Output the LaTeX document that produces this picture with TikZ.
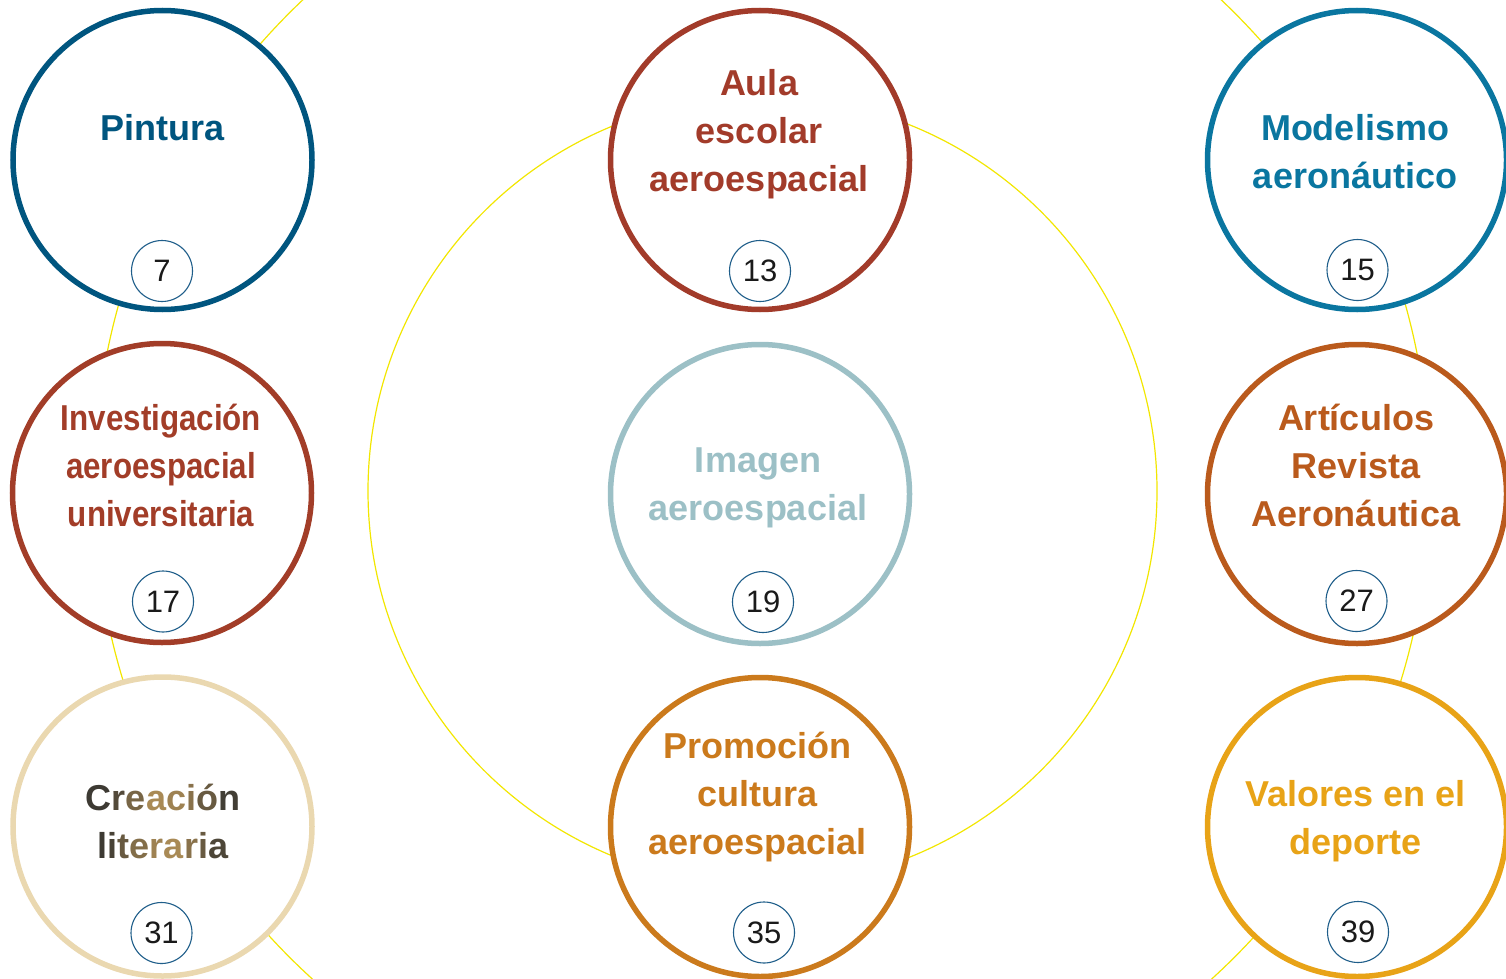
\documentclass[tikz,border=0pt]{standalone}
\usepackage{fontspec}
\setmainfont{Liberation Sans}
\newfontfamily\condfont[FakeStretch=0.87]{Liberation Sans}
\definecolor{cpint}{HTML}{00557F}
\definecolor{caula}{HTML}{A23B2A}
\definecolor{cmodel}{HTML}{0A76A0}
\definecolor{cinv}{HTML}{A23D28}
\definecolor{cimg}{HTML}{9CC0C6}
\definecolor{cart}{HTML}{BA5A1C}
\definecolor{ccrea}{HTML}{EAD8B0}
\definecolor{cprom}{HTML}{CB7A1C}
\definecolor{cval}{HTML}{E8A317}
\definecolor{cyel}{HTML}{F2E600}
\definecolor{cbadge}{HTML}{1F5E8A}
\definecolor{cnum}{HTML}{1A1A1A}
\definecolor{cdark}{HTML}{3D3A33}
\definecolor{cgold}{HTML}{A98A55}
\tikzset{
  ring/.style={circle, draw=#1, line width=5.5pt, fill=white, minimum size=299pt, inner sep=0pt, outer sep=0pt},
  lbl/.style={align=center, text=#1, font=\fontsize{36}{48}\selectfont\bfseries, anchor=base, inner sep=0pt},
  badge/.style={circle, draw=cbadge, line width=1.1pt, fill=white, minimum size=61pt, inner sep=0pt, font=\fontsize{31}{31}\selectfont, text=cnum},
  yel/.style={draw=cyel, line width=1.2pt}
}
\newcommand{\gc}[2]{\textcolor{cgold!#1!cdark}{#2}}
\begin{document}
\begin{tikzpicture}[x=1pt,y=-1pt]
\useasboundingbox (0,0) rectangle (1506,979);
% yellow background circles
\coordinate (ctr) at (762,485);
\coordinate (ctr2) at (762.5,491);
\draw[yel] (ctr) circle[radius=668];
\draw[yel] (ctr2) circle[radius=394.5];
% rings
\node[ring=cpint] (pin) at (162.5,160) {};
\node[ring=caula] (aula) at (760,160) {};
\node[ring=cmodel] (mod) at (1357,160) {};
\node[ring=cinv] (inv) at (162,493) {};
\node[ring=cimg] (img) at (760,494) {};
\node[ring=cart] (art) at (1357,494) {};
\node[ring=ccrea] (cre) at (162.5,826.5) {};
\node[ring=cprom] (prom) at (760,827) {};
\node[ring=cval] (val) at (1357,827) {};
% labels (anchor = baseline of last line)
\node[lbl=cpint] (pin-t) at (162.5,140) {Pintura};
\node[lbl=caula] (aula-t) at (759,191) {Aula\\escolar\\aeroespacial};
\node[lbl=cmodel] (mod-t) at (1355,188) {Modelismo\\aeronáutico};
\node[lbl=cinv, font=\fontsize{36}{48}\selectfont\condfont\bfseries] (inv-t) at (161,526) {Investigación\\aeroespacial\\universitaria};
\node[lbl=cimg] (img-t) at (758,520) {Imagen\\aeroespacial};
\node[lbl=cart] (art-t) at (1356,526) {Artículos\\Revista\\Aeronáutica};
\node[lbl=cdark] (cre-t) at (163,858) {\gc{0}{C}\gc{20}{r}\gc{55}{e}\gc{100}{a}\gc{90}{c}\gc{70}{i}\gc{40}{ó}\gc{5}{n}\\\gc{0}{l}\gc{10}{i}\gc{40}{t}\gc{65}{e}\gc{90}{r}\gc{100}{a}\gc{70}{r}\gc{40}{i}\gc{15}{a}};
\node[lbl=cprom] (prom-t) at (757.5,854) {Promoción\\cultura\\aeroespacial};
\node[lbl=cval] (val-t) at (1355.5,854) {Valores en el\\deporte};
% badges
\node[badge] (b7) at (162,271) {7};
\node[badge] (b13) at (760,271) {13};
\node[badge] (b15) at (1357.5,270) {15};
\node[badge] (b17) at (163,601.5) {17};
\node[badge] (b19) at (763,602) {19};
\node[badge] (b27) at (1356.5,601) {27};
\node[badge] (b31) at (161.5,933) {31};
\node[badge] (b35) at (764,932.5) {35};
\node[badge] (b39) at (1358,932) {39};
\end{tikzpicture}
\end{document}
